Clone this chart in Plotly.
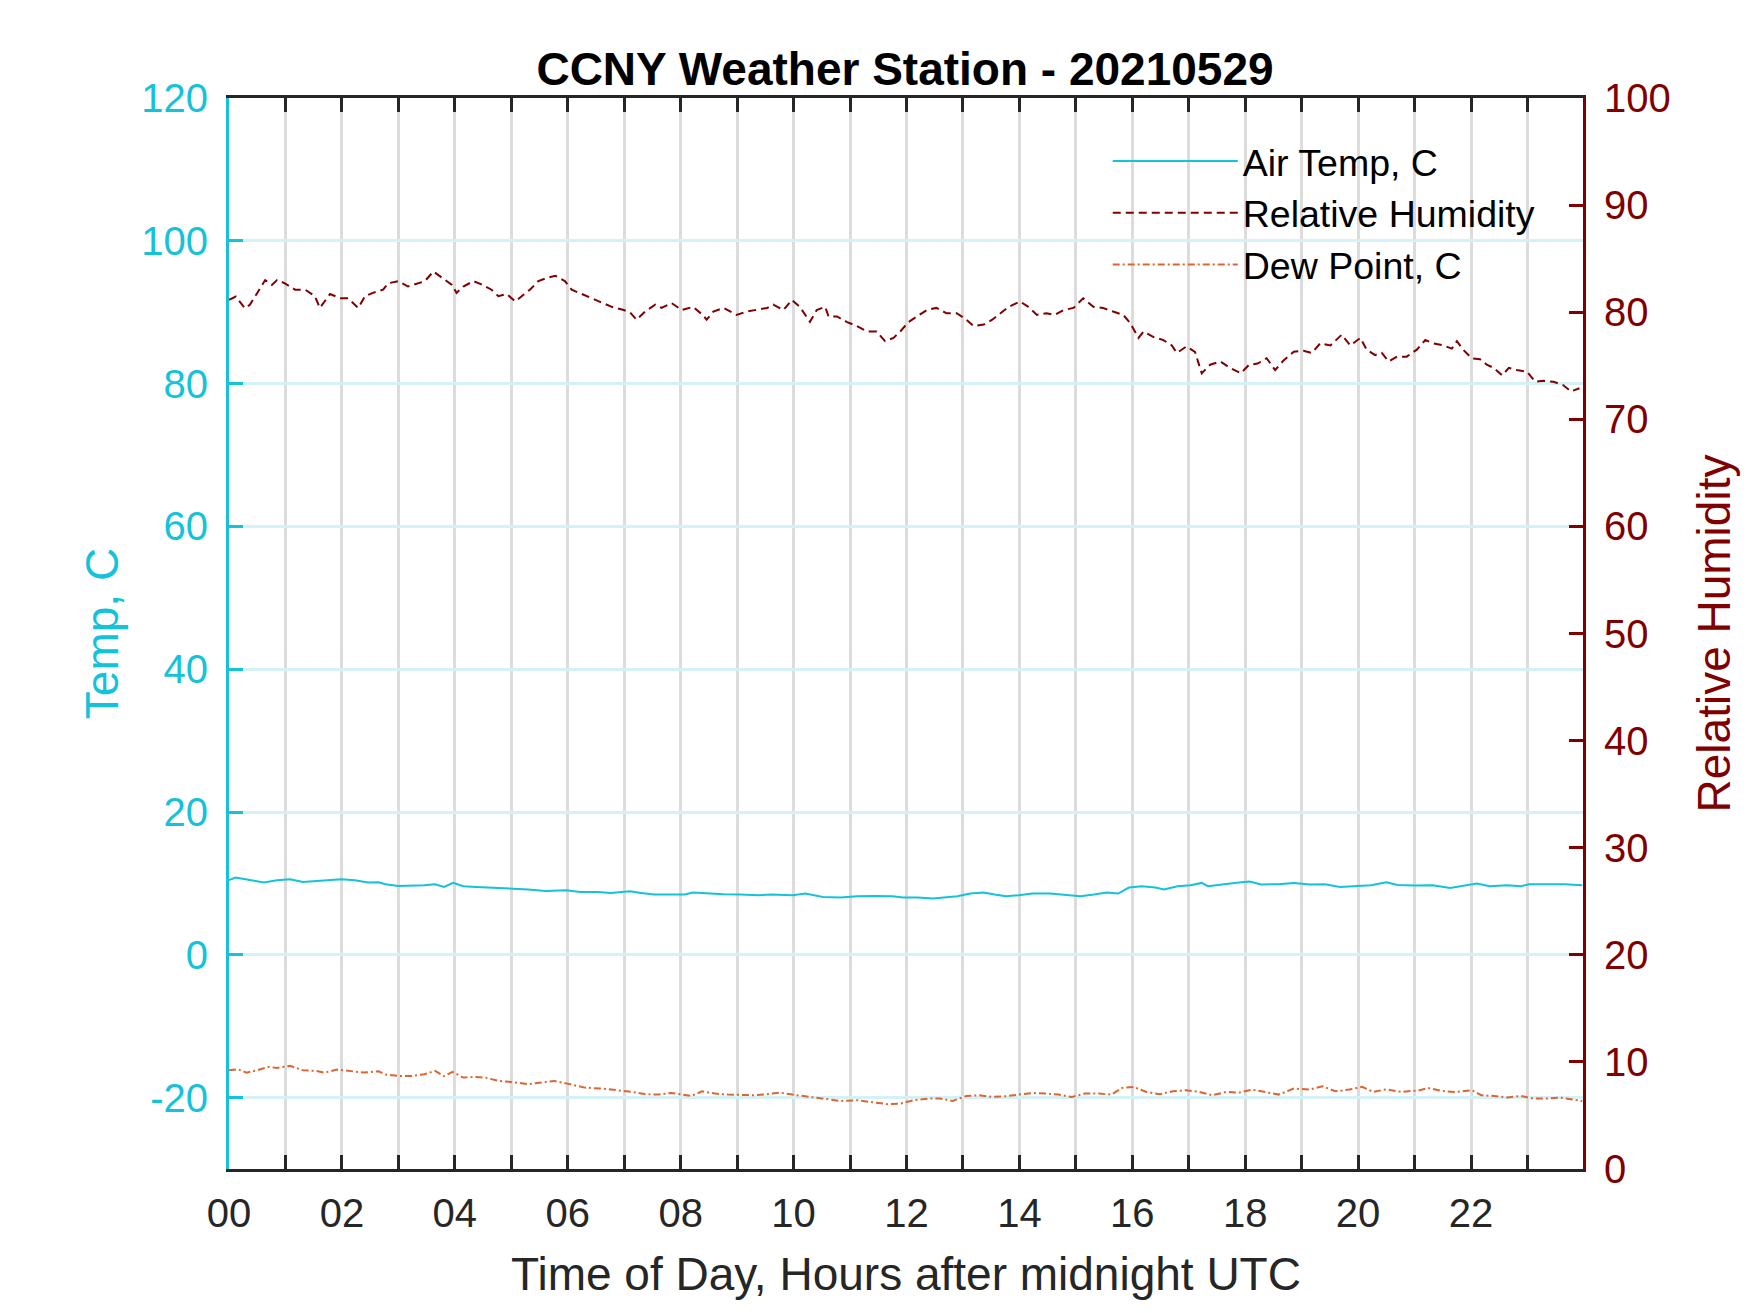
import plotly.graph_objects as go

# ---------------- data ----------------
title_text = "CCNY Weather Station - 20210529"

hour_ticks = list(range(0, 24))
hour_labels = [f"{h:02d}" if h % 2 == 0 else "" for h in hour_ticks]

temp_ticks = [-20, 0, 20, 40, 60, 80, 100, 120]
temp_labels = ["-20", "0", "20", "40", "60", "80", "100", "120"]
rh_ticks = [0, 10, 20, 30, 40, 50, 60, 70, 80, 90, 100]

air_hours = [0.00, 0.12, 0.39, 0.62, 0.85, 1.08, 1.31, 1.54, 1.77, 1.99, 2.23, 2.46, 2.65, 2.77,
             3.00, 3.23, 3.46, 3.65, 3.81, 3.97, 4.15, 4.38, 4.69, 5.00, 5.30, 5.61, 5.97, 6.22,
             6.53, 6.76, 7.10, 7.30, 7.53, 7.83, 8.07, 8.22, 8.45, 8.76, 9.06, 9.37, 9.60, 9.83,
             9.98, 10.21, 10.52, 10.83, 11.13, 11.44, 11.75, 11.94, 12.20, 12.47, 12.74, 12.90,
             13.13, 13.37, 13.56, 13.76, 13.99, 14.23, 14.54, 14.77, 15.08, 15.32, 15.55, 15.75,
             15.94, 16.17, 16.41, 16.56, 16.80, 17.03, 17.23, 17.34, 17.58, 17.81, 18.08, 18.28,
             18.59, 18.86, 19.14, 19.41, 19.68, 19.99, 20.23, 20.50, 20.70, 21.01, 21.32, 21.63,
             21.86, 22.10, 22.33, 22.64, 22.88, 23.03, 23.35, 23.66, 23.97]
air_temp = [10.45, 10.82, 10.45, 10.12, 10.45, 10.59, 10.21, 10.35, 10.45, 10.59, 10.45, 10.12, 10.17, 9.89,
            9.65, 9.65, 9.75, 9.89, 9.51, 10.07, 9.61, 9.51, 9.42, 9.28, 9.14, 8.95, 9.05, 8.81,
            8.81, 8.67, 8.90, 8.67, 8.44, 8.44, 8.44, 8.72, 8.58, 8.48, 8.44, 8.34, 8.44, 8.34,
            8.34, 8.58, 8.11, 8.02, 8.20, 8.25, 8.20, 8.02, 8.02, 7.88, 8.02, 8.20,
            8.58, 8.72, 8.44, 8.20, 8.34, 8.58, 8.58, 8.44, 8.20, 8.44, 8.72, 8.58,
            9.42, 9.61, 9.42, 9.14, 9.61, 9.75, 10.07, 9.61, 9.89, 10.07, 10.26, 9.84,
            9.89, 10.07, 9.84, 9.89, 9.51, 9.61, 9.75, 10.17, 9.79, 9.70, 9.75, 9.37,
            9.70, 9.98, 9.61, 9.75, 9.61, 9.89, 9.89, 9.89, 9.75]

rh_hours = [0.00, 0.12, 0.28, 0.37, 0.49, 0.64, 0.76, 0.85, 0.99, 1.17, 1.35, 1.52, 1.61, 1.70,
            1.79, 1.97, 2.11, 2.29, 2.41, 2.55, 2.73, 2.82, 3.00, 3.17, 3.31, 3.47, 3.62, 3.77,
            3.95, 4.03, 4.15, 4.33, 4.47, 4.65, 4.77, 4.92, 5.07, 5.21, 5.33, 5.48, 5.63, 5.78,
            5.95, 6.07, 6.25, 6.42, 6.60, 6.78, 6.99, 7.10, 7.22, 7.37, 7.55, 7.66, 7.84, 8.02,
            8.22, 8.39, 8.46, 8.58, 8.76, 8.88, 8.99, 9.17, 9.35, 9.53, 9.64, 9.82, 9.97, 10.11,
            10.29, 10.41, 10.56, 10.62, 10.77, 10.94, 11.12, 11.30, 11.47, 11.62, 11.77, 11.89,
            12.04, 12.19, 12.36, 12.53, 12.71, 12.89, 13.04, 13.19, 13.37, 13.52, 13.66, 13.81,
            14.01, 14.16, 14.31, 14.48, 14.63, 14.78, 14.96, 15.13, 15.31, 15.48, 15.66, 15.84,
            15.96, 16.11, 16.20, 16.37, 16.55, 16.70, 16.79, 16.96, 17.11, 17.23, 17.38, 17.56,
            17.73, 17.92, 18.07, 18.22, 18.38, 18.53, 18.68, 18.86, 19.03, 19.18, 19.33, 19.51,
            19.71, 19.86, 20.04, 20.15, 20.30, 20.42, 20.54, 20.69, 20.86, 21.04, 21.19, 21.33,
            21.51, 21.66, 21.75, 21.86, 22.01, 22.16, 22.28, 22.40, 22.55, 22.67, 22.81, 22.99,
            23.14, 23.28, 23.46, 23.63, 23.77, 23.92]
rh_values = [81.15, 81.46, 80.37, 80.70, 81.70, 83.00, 82.55, 83.00, 82.70, 82.10, 82.10, 81.50, 80.40, 81.00,
             81.70, 81.30, 81.30, 80.40, 81.50, 81.80, 82.10, 82.70, 82.90, 82.40, 82.60, 82.90, 83.80, 83.20,
             82.55, 81.80, 82.40, 82.90, 82.60, 82.10, 81.50, 81.70, 81.00, 81.60, 82.10, 82.90, 83.20, 83.40,
             82.90, 82.10, 81.70, 81.30, 80.85, 80.50, 80.20, 80.00, 79.30, 80.06, 80.70, 80.40, 80.85, 80.20,
             80.50, 79.75, 79.30, 80.06, 80.40, 80.06, 79.75, 80.06, 80.20, 80.40, 80.70, 80.20, 81.15, 80.50,
             79.10, 80.20, 80.50, 79.60, 79.60, 79.10, 78.70, 78.20, 78.20, 77.30, 77.60, 78.20,
             79.10, 79.60, 80.20, 80.40, 79.90, 79.90, 79.40, 78.70, 78.85, 79.30, 79.90, 80.50,
             81.00, 80.50, 79.75, 79.90, 79.75, 80.20, 80.40, 81.30, 80.50, 80.40, 80.06, 79.75,
             79.00, 77.60, 78.20, 77.70, 77.40, 76.90, 76.20, 76.80, 76.30, 74.30, 75.10, 75.40,
             74.80, 74.30, 75.10, 75.20, 75.70, 74.60, 75.50, 76.30, 76.40, 76.20, 77.10, 76.90,
             77.90, 76.90, 77.60, 76.50, 76.00, 76.20, 75.40, 75.85, 75.85, 76.50, 77.40, 77.10,
             76.90, 76.60, 77.30, 76.50, 75.70, 75.60, 75.10, 74.80, 74.10, 74.80, 74.60, 74.45,
             73.50, 73.60, 73.50, 73.20, 72.60, 72.90]

dew_hours = [0.00, 0.16, 0.31, 0.50, 0.70, 0.85, 1.08, 1.31, 1.54, 1.69, 1.92, 2.16, 2.39, 2.65,
             2.77, 3.00, 3.23, 3.46, 3.65, 3.81, 3.96, 4.15, 4.38, 4.54, 4.77, 5.00, 5.30, 5.61,
             5.76, 5.99, 6.30, 6.61, 6.92, 7.15, 7.38, 7.61, 7.83, 8.07, 8.19, 8.38, 8.61, 8.84,
             9.07, 9.30, 9.52, 9.76, 9.98, 10.21, 10.52, 10.83, 11.13, 11.44, 11.67, 11.89,
             12.12, 12.39, 12.59, 12.82, 13.06, 13.29, 13.52, 13.76, 13.99, 14.23, 14.46, 14.69,
             14.93, 15.16, 15.40, 15.63, 15.82, 16.02, 16.25, 16.49, 16.72, 16.95, 17.19, 17.42,
             17.66, 17.89, 18.12, 18.36, 18.59, 18.86, 19.14, 19.37, 19.60, 19.84, 20.07, 20.27,
             20.50, 20.77, 21.09, 21.24, 21.48, 21.71, 22.02, 22.18, 22.41, 22.64, 22.88, 23.11,
             23.35, 23.58, 23.81, 23.97]
dew_point = [-16.17, -16.03, -16.50, -16.17, -15.70, -15.84, -15.56, -16.17, -16.26, -16.50, -16.08, -16.26, -16.50, -16.31,
             -16.78, -16.96, -16.96, -16.73, -16.26, -17.00, -16.40, -17.20, -17.10, -17.20, -17.66, -17.80, -18.13, -17.80,
             -17.66, -18.04, -18.60, -18.74, -18.97, -19.21, -19.53, -19.58, -19.35, -19.58, -19.77, -19.11, -19.44, -19.58,
             -19.67, -19.67, -19.53, -19.30, -19.58, -19.81, -20.14, -20.47, -20.37, -20.75, -20.93, -20.84,
             -20.37, -20.14, -20.14, -20.47, -19.77, -19.67, -19.91, -19.81, -19.58, -19.35, -19.44, -19.58,
             -19.91, -19.44, -19.44, -19.58, -18.65, -18.50, -19.21, -19.53, -19.11, -18.97, -19.21, -19.67,
             -19.21, -19.30, -18.88, -19.21, -19.58, -18.74, -18.88, -18.41, -19.11, -18.88, -18.50, -19.21,
             -18.83, -19.21, -18.97, -18.65, -19.07, -19.21, -18.97, -19.67, -19.77, -20.00, -19.77, -20.14,
             -20.14, -20.00, -20.28, -20.47, -20.37]

# ---------------- styling ----------------
CYAN = "#14C2DA"
DARKRED = "#800000"
ORANGE = "#DE6430"
AXIS_DARK = "#262626"
FONT = "Liberation Sans, Arial, sans-serif"

fig = go.Figure()
fig.add_trace(go.Scatter(x=air_hours, y=air_temp, name="Air Temp, C", mode="lines",
                         line=dict(color=CYAN, width=2), yaxis="y"))
fig.add_trace(go.Scatter(x=rh_hours, y=rh_values, name="Relative Humidity", mode="lines",
                         line=dict(color=DARKRED, width=2, dash="8px,5px"), yaxis="y2"))
fig.add_trace(go.Scatter(x=dew_hours, y=dew_point, name="Dew Point, C", mode="lines",
                         line=dict(color=ORANGE, width=2, dash="7px,3px,2px,3px"), yaxis="y"))

fig.update_layout(
    width=1750, height=1313, autosize=False,
    margin=dict(l=221, r=175, t=90, b=152, pad=0),
    paper_bgcolor="white", plot_bgcolor="white",
    font=dict(family=FONT, size=40, color=AXIS_DARK),
    title=dict(text=title_text, x=897 / 1750, xanchor="center",
               y=1 - 61 / 1313, yanchor="middle", xref="container", yref="container",
               font=dict(family=FONT, size=46, color="black", weight="bold")),
    showlegend=True,
    legend=dict(x=0.649, y=0.970, xanchor="left", yanchor="top",
                bgcolor="rgba(0,0,0,0)", borderwidth=0,
                font=dict(family=FONT, size=37.5, color="black"),
                itemwidth=125, tracegroupgap=0),
    xaxis=dict(range=[0, 23.9833], tickmode="array", tickvals=hour_ticks, ticktext=hour_labels,
               ticks="inside", ticklen=14, tickwidth=3, tickcolor=AXIS_DARK,
               showline=True, linecolor=AXIS_DARK, linewidth=3, mirror="ticks",
               showgrid=True, gridcolor="#DCDCDC", gridwidth=2.5, zeroline=False,
               tickfont=dict(family=FONT, size=40, color=AXIS_DARK), ticklabelstandoff=7,
               title=dict(text="Time of Day, Hours after midnight UTC", standoff=24,
                          font=dict(family=FONT, size=46, color=AXIS_DARK))),
    yaxis=dict(range=[-30, 120], tickmode="array", tickvals=temp_ticks, ticktext=temp_labels,
               ticks="inside", ticklen=14, tickwidth=3, tickcolor=CYAN,
               showline=True, linecolor=CYAN, linewidth=3, mirror=False,
               showgrid=True, gridcolor="#D4F1F5", gridwidth=2.5, zeroline=False,
               tickfont=dict(family=FONT, size=40, color=CYAN), ticklabelstandoff=10,
               title=dict(text="Temp, C", standoff=9,
                          font=dict(family=FONT, size=46, color=CYAN))),
    yaxis2=dict(range=[0, 100], tickmode="array", tickvals=rh_ticks, overlaying="y", side="right",
                ticks="inside", ticklen=14, tickwidth=3, tickcolor=DARKRED,
                showline=True, linecolor=DARKRED, linewidth=3,
                showgrid=False, zeroline=False,
                tickfont=dict(family=FONT, size=40, color=DARKRED), ticklabelstandoff=10,
                title=dict(text="Relative Humidity", standoff=29,
                           font=dict(family=FONT, size=46, color=DARKRED))),
)

fig.write_html("out.html")
